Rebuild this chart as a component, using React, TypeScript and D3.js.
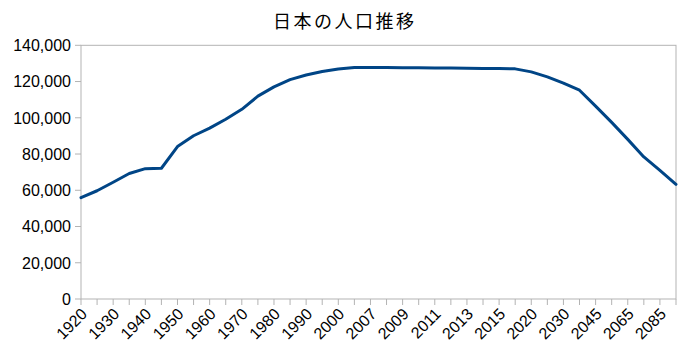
import React from "react";
import * as d3 from "d3";

const years = ["1920","1925","1930","1935","1940","1945","1950","1955","1960","1965","1970","1975","1980","1985","1990","1995","2000","2005","2007","2008","2009","2010","2011","2012","2013","2014","2015","2016","2020","2025","2030","2035","2045","2055","2065","2075","2085","2095"];
const population = [55963,59737,64450,69254,71933,72147,84115,90077,94302,99209,104665,111940,117060,121049,123611,125570,126926,127768,127771,127692,127650,127600,127520,127450,127360,127250,127150,127000,125325,122544,119125,115216,106421,97441,88077,78400,71000,63300];
const yTicks = [0,20000,40000,60000,80000,100000,120000,140000];
const title = "日本の人口推移";

const W = 692, H = 361;
const L = 81, R = 676, T = 45.3, B = 299;

export default function App() {
  const x = d3.scalePoint<string>().domain(years).range([L, R]);
  const y = d3.scaleLinear().domain([0, 140000]).range([B, T]);
  const line = d3.line<number>().x((_, i) => x(years[i]) as number).y(d => y(d));
  const fmt = d3.format(",");
  const axisColor = "#b3b3b3";
  const font = "'Liberation Sans', Arial, sans-serif";
  return (
    <svg width={W} height={H} style={{ position: "absolute", left: 0, top: 0, background: "#fff" }}>
      <text x={344.7} y={28} textAnchor="middle" fontSize={18} fontFamily="'Noto Sans CJK JP', sans-serif" letterSpacing={2.5} fill="#000">{title}</text>
      <rect x={L} y={T} width={R - L} height={B - T} fill="none" stroke={axisColor} strokeWidth={1} />
      {yTicks.map(t => (
        <g key={t}>
          <line x1={L - 6} x2={L} y1={y(t)} y2={y(t)} stroke={axisColor} />
          <text x={71} y={y(t)} dy="0.36em" textAnchor="end" fontSize={16} fontFamily={font} fill="#000">{fmt(t)}</text>
        </g>
      ))}
      {years.map((yr, i) => (
        <g key={yr}>
          <line x1={x(yr)} x2={x(yr)} y1={B} y2={B + 6} stroke={axisColor} />
          {i % 2 === 0 && (
            <text
              transform={`translate(${(x(yr) as number) + 3},${B + 12}) rotate(-45)`}
              dy="0.36em"
              textAnchor="end"
              fontSize={16}
              fontFamily={font}
              fill="#000"
            >{yr}</text>
          )}
        </g>
      ))}
      <path d={line(population) || ""} fill="none" stroke="#004586" strokeWidth={3} strokeLinejoin="round" strokeLinecap="round" />
    </svg>
  );
}
